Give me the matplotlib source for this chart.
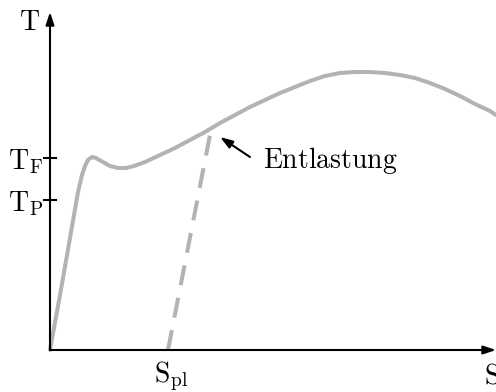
import matplotlib.pyplot as plt

plt.rcParams['mathtext.fontset'] = 'cm'
plt.rcParams['font.family'] = 'DejaVu Serif'

# Spannungs-Dehnungs-Kurve (S = Dehnung, T = Spannung)
S_curve = [0, 10, 20, 28, 32, 35, 38, 42, 46, 53, 60, 68, 76, 84, 95, 110, 125, 140,
           155, 170, 185, 200, 215, 230, 245, 260, 275, 290, 305, 320, 335, 350, 365,
           380, 395, 410, 425, 440, 446]
T_curve = [0, 55, 112, 158, 175, 184, 190, 193, 192, 188, 184, 182, 182, 184, 188, 195, 202, 210,
           218, 227, 235, 243, 250, 257, 263, 269, 274, 277, 278, 278, 277, 275, 272,
           267, 261, 254, 246, 239, 235]

# Entlastungsgerade
S_unload = [118, 160]
T_unload = [0, 215]

T_F = 192
T_P = 150
S_pl = 118

grey = '#b3b3b3'

fig = plt.figure(figsize=(4.96, 3.92), dpi=100)
ax = fig.add_axes([0, 0, 1, 1])
ax.set_xlim(-50, 446)
ax.set_ylim(-42, 350)
ax.axis('off')

ax.plot(S_curve, T_curve, color=grey, lw=2.9, solid_joinstyle='round', solid_capstyle='round', zorder=2)
ax.plot(S_unload, T_unload, color=grey, lw=2.9, dashes=(5, 3.2), zorder=2)

arrow = dict(arrowstyle='-|>,head_length=0.75,head_width=0.25', color='black', lw=1.5,
             shrinkA=0, shrinkB=0)

# Achsen mit Pfeilen
ax.annotate('', xy=(446, 0), xytext=(0, 0), arrowprops=arrow)
ax.annotate('', xy=(0, 338), xytext=(0, 0), arrowprops=arrow)

# Ticks auf der T-Achse
for t in [T_F, T_P]:
    ax.plot([-6, 6], [t, t], color='black', lw=1.5)

fs = 20
ax.text(-20, 328, r'$\mathrm{T}$', fontsize=fs, ha='center', va='center')
ax.text(-24, T_F - 4, r'$\mathrm{T_F}$', fontsize=fs, ha='center', va='center')
ax.text(-24, T_P - 4, r'$\mathrm{T_P}$', fontsize=fs, ha='center', va='center')
ax.text(S_pl + 3, -26, r'$\mathrm{S_{pl}}$', fontsize=fs, ha='center', va='center')
ax.text(442, -26, r'$\mathrm{S}$', fontsize=fs, ha='center', va='center')

ax.annotate('', xy=(170, 213), xytext=(200, 193), arrowprops=arrow)
ax.text(213, 190, r'$\mathrm{Entlastung}$', fontsize=fs, ha='left', va='center')

fig.savefig('out.png', dpi=100)
